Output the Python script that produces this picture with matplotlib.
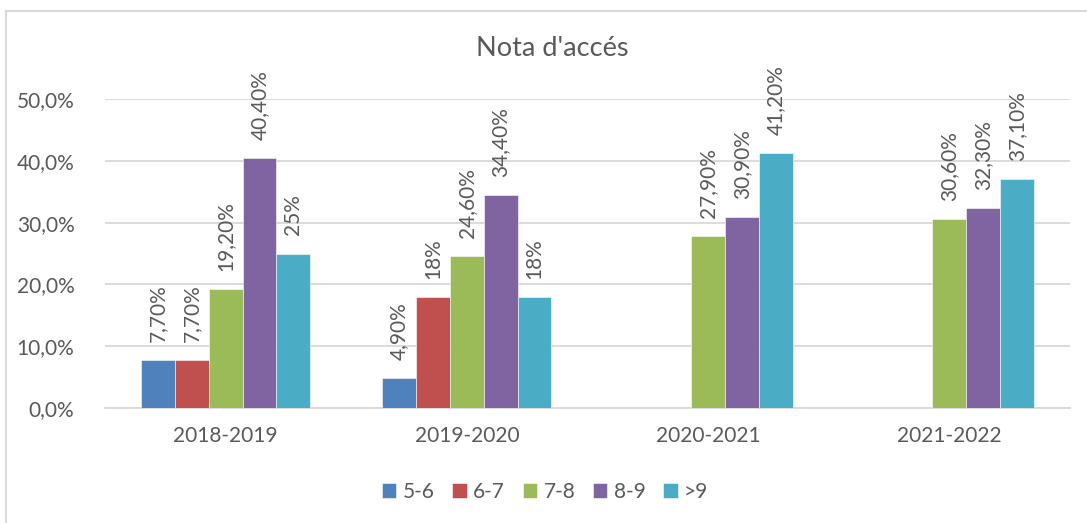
import numpy as np
from matplotlib import pyplot as plt
from matplotlib.lines import Line2D

plt.rcParams['font.family'] = ['Lato', 'DejaVu Sans']

cursos = ['2018-2019', '2019-2020', '2020-2021', '2021-2022']
series = ['5-6', '6-7', '7-8', '8-9', '>9']
v_5_6 = [7.7, 4.9, np.nan, np.nan]
v_6_7 = [7.7, 18, np.nan, np.nan]
v_7_8 = [19.2, 24.6, 27.9, 30.6]
v_8_9 = [40.4, 34.4, 30.9, 32.3]
v_9 = [25, 18, 41.2, 37.1]
colors = ['#4F81BD', '#C0504D', '#9BBB59', '#8064A2', '#4BACC6']

text_col = '#595959'
grid_col = '#D9D9D9'


def fmt(v):
    """Excel style: 25% but 7,70%"""
    if float(v).is_integer():
        return f'{int(v)}%'
    return f'{v:.2f}'.replace('.', ',') + '%'


fig = plt.figure(figsize=(10.87, 5.23), dpi=100)
ax = fig.add_axes([105 / 1087, 1 - 408 / 523, 965 / 1087, 309 / 523])

x = np.arange(len(cursos))
w = 0.14
for i, vals in enumerate([v_5_6, v_6_7, v_7_8, v_8_9, v_9]):
    pos = x + (i - 2) * w
    ax.bar(pos, vals, w, color=colors[i], label=series[i],
           edgecolor='white', linewidth=0.4, zorder=3)
    for px, v in zip(pos, vals):
        if np.isnan(v):
            continue
        ax.annotate(fmt(v), (px, v), xytext=(0, 13), textcoords='offset points',
                    rotation=90, ha='center', va='bottom', fontsize=15,
                    color=text_col, annotation_clip=False)

ax.set_xlim(-0.5, 3.5)
ax.set_ylim(0, 50)
ax.set_yticks(range(0, 51, 10))
ax.set_yticklabels([f'{t},0%' for t in range(0, 51, 10)])
ax.set_xticks(x)
ax.set_xticklabels(cursos)
ax.tick_params(length=0, labelsize=15, colors=text_col)
ax.tick_params(axis='y', pad=22)
ax.tick_params(axis='x', pad=13)
ax.grid(axis='y', color=grid_col, linewidth=1.3, zorder=0)
for s in ['top', 'right', 'left']:
    ax.spines[s].set_visible(False)
ax.spines['bottom'].set_color(grid_col)
ax.spines['bottom'].set_linewidth(1.3)

fig.text(552 / 1087, 1 - 48 / 523, "Nota d'accés", ha='center', va='center',
         fontsize=19.5, color=text_col)

fig.legend(loc='center', bbox_to_anchor=(545 / 1087, 1 - 492 / 523), ncol=5,
           frameon=False, fontsize=15, labelcolor=text_col,
           handlelength=0.7, handleheight=0.7, handletextpad=0.3,
           columnspacing=0.85)

# chart border (top and left visible)
fig.add_artist(Line2D([6 / 1087, 1], [1 - 11 / 523] * 2, color=grid_col, lw=1.5,
                      transform=fig.transFigure))
fig.add_artist(Line2D([6 / 1087] * 2, [0, 1 - 11 / 523], color=grid_col, lw=1.5,
                      transform=fig.transFigure))

fig.savefig('out.png', dpi=100)
